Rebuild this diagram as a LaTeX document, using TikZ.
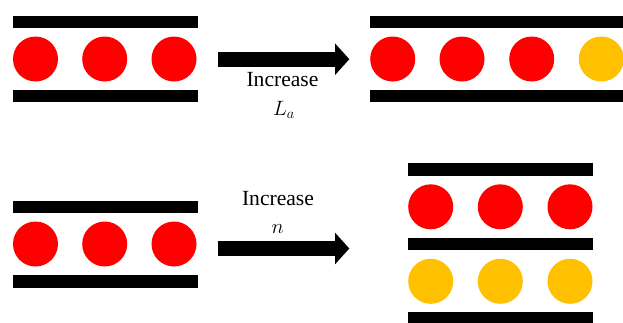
\documentclass[tikz,border=0pt]{standalone}
\usepackage{fontspec}
\setmainfont{Liberation Serif}
\usetikzlibrary{arrows.meta}
\definecolor{ionred}{HTML}{FF0000}
\definecolor{iongold}{HTML}{FFC000}
\tikzset{
  ion/.style={circle, minimum size=45pt, inner sep=0pt},
  red ion/.style={ion, fill=ionred},
  gold ion/.style={ion, fill=iongold},
  plate/.style={fill=black},
  caption/.style={font=\fontsize{21.6}{26}\selectfont, inner sep=0pt, anchor=base},
  bigarrow/.style={line width=15pt, -{Triangle[length=14.3pt, width=31.7pt, line width=0pt]}}
}
\begin{document}
\begin{tikzpicture}[x=1pt, y=-1pt]
      \useasboundingbox (0,0) rectangle (623,322);
      \clip (0,0) rectangle (623,322);
      % top left: one channel
      \fill[plate] (12.7,15.7) rectangle (197.7,28.3);
      \fill[plate] (12.7,90) rectangle (197.7,102.3);
      \node[red ion] (tl1) at (35.5,59) {};
      \node[red ion] (tl2) at (104.7,59) {};
      \node[red ion] (tl3) at (174,59) {};
      % top right: longer channel
      \fill[plate] (370,15.7) rectangle (630,28.3);
      \fill[plate] (370,90) rectangle (630,102.3);
      \node[red ion] (tr1) at (392.7,59) {};
      \node[red ion] (tr2) at (462,59) {};
      \node[red ion] (tr3) at (531.7,59) {};
      \node[gold ion] (tr4) at (601.3,59) {};
      % top arrow
      \coordinate (ta tail) at (218.3,59.2);
      \coordinate (ta tip) at (349.3,59.2);
      \draw[bigarrow] (ta tail) -- (ta tip);
      \node[caption] (ta word) at (282.5,86.7) {Increase};
      \node[caption] (ta sym) at (284,115) {$L_a$};
      % bottom left: one channel
      \fill[plate] (12.7,200.7) rectangle (197.7,213.3);
      \fill[plate] (12.7,274.7) rectangle (197.7,287.7);
      \node[red ion] (bl1) at (35.5,244) {};
      \node[red ion] (bl2) at (104.7,244) {};
      \node[red ion] (bl3) at (174,244) {};
      % bottom right: two stacked channels
      \fill[plate] (408,163.3) rectangle (592.7,176);
      \fill[plate] (408,237.7) rectangle (592.7,250.3);
      \fill[plate] (408,312.3) rectangle (592.7,325);
      \node[red ion] (br1) at (430.7,206.8) {};
      \node[red ion] (br2) at (500.3,206.8) {};
      \node[red ion] (br3) at (570,206.8) {};
      \node[gold ion] (br4) at (430.7,281.3) {};
      \node[gold ion] (br5) at (500.3,281.3) {};
      \node[gold ion] (br6) at (570,281.3) {};
      % bottom arrow
      \coordinate (ba tail) at (218.3,248.5);
      \coordinate (ba tip) at (349.3,248.5);
      \draw[bigarrow] (ba tail) -- (ba tip);
      \node[caption] (ba word) at (278,205) {Increase};
      \node[caption] (ba sym) at (277.7,233.3) {$n$};
    \end{tikzpicture}
\end{document}
